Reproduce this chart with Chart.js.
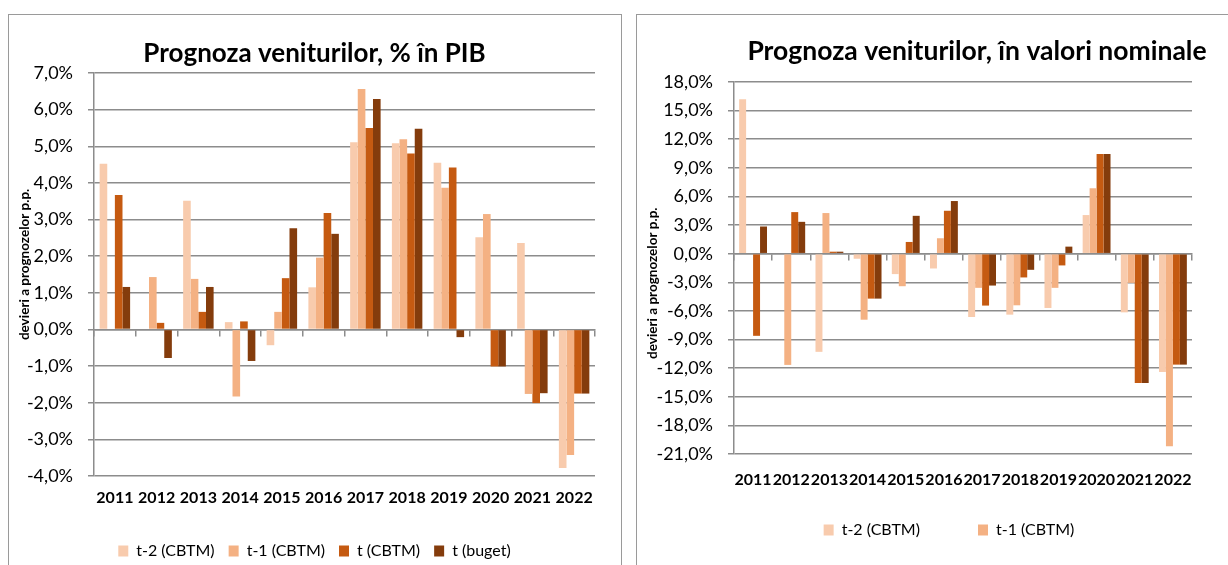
<!DOCTYPE html>
<html>
<head>
<meta charset="utf-8">
<script src="https://cdn.jsdelivr.net/npm/chart.js@4.4.1/dist/chart.umd.min.js"></script>
<style>
  html, body { margin: 0; padding: 0; background: #fff; overflow: hidden; width: 1228px; height: 565px; }
  .panel { position: absolute; border: 1px solid #9a9a9a; background: #fff; box-sizing: border-box; }
  #panelLeft { left: 8px; top: 14px; width: 614px; height: 600px; }
  #panelRight { left: 636px; top: 14px; width: 700px; height: 600px; }
  .box { position: absolute; }
  #boxLeft { left: 9px; top: 15px; width: 611px; height: 554px; }
  #boxRight { left: 637px; top: 15px; width: 680px; height: 533px; }
</style>
</head>
<body>
<div class="panel" id="panelLeft"></div>
<div class="panel" id="panelRight"></div>
<div class="box" id="boxLeft"><canvas id="pibChart"></canvas></div>
<div class="box" id="boxRight"><canvas id="nominalChart"></canvas></div>
<script>
const years = ["2011", "2012", "2013", "2014", "2015", "2016", "2017", "2018", "2019", "2020", "2021", "2022"];
const seriesNames = ["t-2 (CBTM)", "t-1 (CBTM)", "t (CBTM)", "t (buget)"];
const seriesColors = ["#F8CBAD", "#F4B183", "#C55A11", "#843C0C"];

// Deviations of revenue forecasts, % of GDP
const pibT2 = [4.52, null, 3.51, 0.2, -0.43, 1.15, 5.11, 5.08, 4.55, 2.52, 2.36, -3.78];
const pibT1 = [null, 1.43, 1.38, -1.83, 0.48, 1.96, 6.56, 5.19, 3.87, 3.15, -1.76, -3.43];
const pibT = [3.67, 0.18, 0.48, 0.22, 1.4, 3.18, 5.5, 4.8, 4.42, -1.01, -2.01, -1.75];
const pibBuget = [1.16, -0.78, 1.16, -0.86, 2.76, 2.61, 6.29, 5.48, -0.21, -1.01, -1.74, -1.75];
const pibTicks = { min: -4, max: 7, step: 1 };

// Deviations of revenue forecasts, nominal values
const nomT2 = [16.18, null, -10.29, -0.53, -2.14, -1.55, -6.64, -6.39, -5.69, 4.05, -6.15, -12.4];
const nomT1 = [null, -11.66, 4.26, -6.92, -3.41, 1.62, -3.58, -5.41, -3.58, 6.86, -3.06, -20.2];
const nomT = [-8.61, 4.36, 0.21, -4.71, 1.23, 4.5, -5.44, -2.49, -1.23, 10.45, -13.56, -11.63];
const nomBuget = [2.85, 3.34, 0.21, -4.71, 3.97, 5.52, -3.34, -1.69, 0.74, 10.45, -13.56, -11.63];
const nomTicks = { min: -21, max: 18, step: 3 };

const axisTitle = "devieri a prognozelor p.p.";
const gridColor = "#8c8c8c";
const fontFamily = "Lato, 'Noto Sans', sans-serif";
const em = "\u2003";
const en = "\u2002";

function pctLabel(value) {
  return value.toFixed(1).replace(".", ",") + "%";
}

function buildChart(canvasId, seriesValues, ticks, cfg) {
  const datasets = seriesValues.map((values, i) => ({
    label: seriesNames[i],
    data: values,
    backgroundColor: seriesColors[i],
    borderWidth: 0,
    categoryPercentage: 0.73,
    barPercentage: 1.0,
    xAxisID: "x",
    yAxisID: "y",
  }));

  return new Chart(document.getElementById(canvasId), {
    type: "bar",
    data: { labels: years, datasets: datasets },
    options: {
      responsive: true,
      maintainAspectRatio: false,
      animation: false,
      layout: { padding: 0 },
      plugins: {
        title: {
          display: true,
          text: cfg.title,
          color: "#000",
          font: { family: fontFamily, size: cfg.titleSize, weight: "bold" },
          padding: cfg.titlePadding,
        },
        legend: {
          position: "bottom",
          labels: {
            boxWidth: 10,
            boxHeight: 11,
            padding: 14,
            color: "#000",
            font: { family: fontFamily, size: 16 },
            // keep only the visible entries, spaced out like the original
            generateLabels: (chart) =>
              Chart.defaults.plugins.legend.labels
                .generateLabels(chart)
                .filter((item) => item.datasetIndex < cfg.legendCount)
                .map((item, i) => ({ ...item, text: item.text + (cfg.legendGaps[i] || "") })),
          },
        },
        tooltip: { enabled: false },
      },
      scales: {
        x: {
          position: "bottom",
          grid: { display: false, drawTicks: false },
          border: { display: false },
          ticks: {
            autoSkip: false,
            maxRotation: 0,
            minRotation: 0,
            padding: cfg.xLabelPadding,
            color: "#000",
            font: { family: fontFamily, size: 16, weight: "bold" },
          },
          afterFit: (scale) => {
            scale.height = cfg.xAxisHeight;
          },
        },
        // axis line drawn through zero, with tick marks between categories
        xZero: {
          type: "category",
          axis: "x",
          labels: years,
          position: { y: 0 },
          offset: true,
          grid: { offset: true, drawOnChartArea: false, tickLength: 6, color: gridColor, lineWidth: 1.5 },
          border: { color: gridColor, width: 1.5 },
          ticks: { display: false },
        },
        y: {
          min: ticks.min,
          max: ticks.max,
          ticks: {
            stepSize: ticks.step,
            callback: pctLabel,
            padding: 15,
            color: "#000",
            font: { family: fontFamily, size: 18 },
          },
          grid: { color: gridColor, lineWidth: 1.5, tickLength: 6 },
          border: { color: gridColor, width: 1.5 },
          title: {
            display: true,
            text: cfg.axisTitle,
            color: "#000",
            font: { family: fontFamily, size: 13.5, weight: "bold" },
            padding: { top: 8, bottom: 0 },
          },
          afterFit: (scale) => {
            scale.width = cfg.yAxisWidth;
          },
        },
        // empty space to the right of the plot
        yRight: {
          type: "linear",
          axis: "y",
          position: "right",
          grid: { display: false, drawTicks: false },
          border: { display: false },
          ticks: { display: false },
          afterFit: (scale) => {
            scale.width = cfg.rightGap;
          },
        },
      },
    },
  });
}

buildChart("pibChart", [pibT2, pibT1, pibT, pibBuget], pibTicks, {
  title: "Prognoza veniturilor, % în PIB",
  titleSize: 26,
  titlePadding: { top: 23.4, bottom: 3.4 },
  axisTitle: em + em + axisTitle,
  xLabelPadding: 12,
  xAxisHeight: 53,
  yAxisWidth: 85,
  rightGap: 25,
  legendCount: 4,
  legendGaps: [],
});

buildChart("nominalChart", [nomT2, nomT1, nomT, nomBuget], nomTicks, {
  title: "Prognoza veniturilor, în valori nominale",
  titleSize: 26.5,
  titlePadding: { top: 20.5, bottom: 14.7 },
  axisTitle: axisTitle + em + em + em,
  xLabelPadding: 16,
  xAxisHeight: 54,
  yAxisWidth: 97,
  rightGap: 125,
  legendCount: 2,
  legendGaps: [em + em + em + en, em + em + em + em + en],
});
</script>
</body>
</html>
